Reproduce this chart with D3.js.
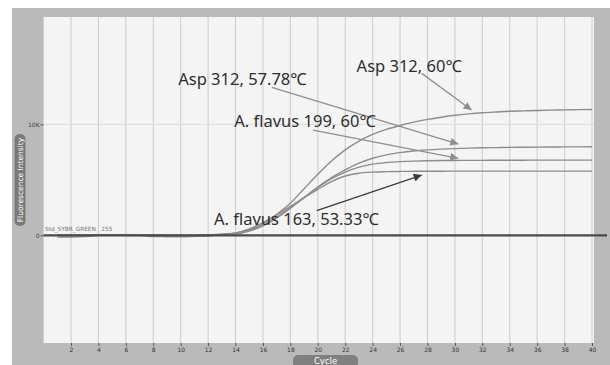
<!DOCTYPE html>
<html><head><meta charset="utf-8">
<script src="https://cdn.jsdelivr.net/npm/d3@7"></script>
<style>
html,body{margin:0;padding:0;background:#fff;}
svg{display:block;}
</style></head>
<body>
<svg id="chart" width="610" height="365"></svg>
<script>
// ---- data ----
const cycles = d3.range(1, 41);
const xTicks = [2,4,6,8,10,12,14,16,18,20,22,24,26,28,30,32,34,36,38,40];
const yTicks = [0, 10000];
const yTickLabels = ["0", "10K"];
// fluorescence (K units) per cycle 1..40
const asp312_60 = [0.02,0.0,-0.05,0.0,0.02,0.0,-0.03,0.0,0.02,0.0,0.02,0.05,0.1,0.2,0.5,1.05,1.9,2.9,4.2,5.5,6.7,7.7,8.5,9.1,9.55,9.9,10.2,10.45,10.65,10.82,10.95,11.05,11.12,11.18,11.22,11.26,11.29,11.31,11.33,11.35];
const asp312_5778 = [-0.15,-0.15,-0.12,0.0,0.0,0.0,0.0,0.0,-0.12,-0.12,-0.1,0.0,0.05,0.12,0.38,0.85,1.55,2.45,3.4,4.35,5.2,5.9,6.5,6.95,7.25,7.45,7.6,7.7,7.77,7.82,7.86,7.89,7.91,7.93,7.94,7.95,7.96,7.97,7.97,7.98];
const flavus199_60 = [0.0,0.0,0.0,0.0,0.0,0.0,0.0,-0.12,-0.12,-0.12,-0.1,-0.05,0.05,0.12,0.42,0.92,1.65,2.5,3.4,4.3,5.1,5.7,6.15,6.42,6.56,6.64,6.69,6.72,6.74,6.75,6.76,6.76,6.77,6.77,6.77,6.78,6.78,6.78,6.78,6.78];
const flavus163_5333 = [0.0,0.0,0.0,0.0,0.0,0.0,0.0,0.0,0.0,-0.08,-0.08,-0.05,0.08,0.22,0.58,1.15,1.85,2.6,3.4,4.15,4.85,5.35,5.6,5.7,5.74,5.76,5.77,5.78,5.78,5.79,5.79,5.79,5.79,5.79,5.79,5.79,5.79,5.79,5.79,5.79];
const seriesNames = ["Asp 312, 60℃","Asp 312, 57.78℃","A. flavus 199, 60℃","A. flavus 163, 53.33℃"];
const seriesValues = [asp312_60, asp312_5778, flavus199_60, flavus163_5333];
// annotation anchors in data units (cycle, K)
const annoText = [[22.83,14.73],[9.82,13.54],[13.91,9.73],[12.43,0.93]];
const arrowFrom = [[27.58,14.6],[16.64,13.33],[19.65,9.49],[19.92,2.22]];
const arrowTo = [[31.22,11.29],[30.25,8.23],[30.25,6.94],[27.58,5.43]];
const thresholdLabel = "Std_SYBR_GREEN   255";

// ---- layout ----
const svg = d3.select("#chart");
const plot = {left:43.6, right:594, top:17, bottom:343};
const x = d3.scaleLinear().domain([0,40]).range([plot.left, 592]);
const y = d3.scaleLinear().domain([0,10000]).range([235.3, 124.4]);

// gray panel
svg.append("rect").attr("x",12).attr("y",8).attr("width",598).attr("height",357).attr("fill","#bababa");
// plot bg
svg.append("rect").attr("x",plot.left).attr("y",plot.top).attr("width",plot.right-plot.left).attr("height",plot.bottom-plot.top).attr("fill","#f4f4f4");

// grid
svg.append("g").selectAll("line").data(xTicks).join("line")
  .attr("x1",d=>x(d)).attr("x2",d=>x(d)).attr("y1",plot.top).attr("y2",plot.bottom)
  .attr("stroke","#d2d2d2").attr("stroke-width",1.2);
svg.append("line").attr("x1",plot.left).attr("x2",plot.right).attr("y1",y(10000)).attr("y2",y(10000))
  .attr("stroke","#dcdcdc").attr("stroke-width",1);

// x axis
const xAxis = svg.append("g").attr("transform",`translate(0,${plot.bottom})`)
  .call(d3.axisBottom(x).tickValues(xTicks).tickSize(3).tickPadding(1.5).tickFormat(d3.format("d")));
xAxis.select(".domain").remove();
xAxis.selectAll("line").attr("stroke","#555");
xAxis.selectAll("text").attr("fill","#333").style("font","6px 'DejaVu Sans', sans-serif");

// y axis
const yAxis = svg.append("g").attr("transform",`translate(${plot.left},0)`)
  .call(d3.axisLeft(y).tickValues(yTicks).tickSize(3).tickPadding(1).tickFormat((d,i)=>yTickLabels[i]));
yAxis.select(".domain").remove();
yAxis.selectAll("line").attr("stroke","#555");
yAxis.selectAll("text").attr("fill","#444").style("font","6px 'DejaVu Sans', sans-serif");

// y label box
svg.append("rect").attr("x",14.5).attr("y",134).attr("width",11).attr("height",92).attr("rx",5).attr("fill","#7a7a7a");
svg.append("text").attr("transform","translate(22.5,180) rotate(-90)").attr("text-anchor","middle")
  .attr("fill","#fff").style("font","7.5px 'DejaVu Sans', sans-serif").text("Fluorescence Intensity");

// x label box
svg.append("rect").attr("x",293).attr("y",355).attr("width",65).attr("height",13).attr("rx",5).attr("fill","#808080");
svg.append("text").attr("x",325.5).attr("y",363.5).attr("text-anchor","middle")
  .attr("fill","#fff").style("font","8.5px 'DejaVu Sans', sans-serif").text("Cycle");

// curves
const line = d3.line().x((d,i)=>x(cycles[i])).y(d=>y(d*1000)).curve(d3.curveMonotoneX);
svg.append("g").selectAll("path").data(seriesValues).join("path")
  .attr("d",line).attr("fill","none").attr("stroke","#8c8c8c").attr("stroke-width",1.4);

// threshold line
svg.append("line").attr("x1",plot.left).attr("x2",607).attr("y1",y(0)).attr("y2",y(0))
  .attr("stroke","#4a4a4a").attr("stroke-width",2.2);
svg.append("text").attr("x",45).attr("y",y(0)-4.5).attr("fill","#777")
  .style("font","5.8px 'DejaVu Sans', sans-serif").style("white-space","pre").text(thresholdLabel);

// arrows
const defs = svg.append("defs");
["#8f8f8f","#3c3c3c"].forEach((c,i)=>{
  defs.append("marker").attr("id","ah"+i).attr("viewBox","0 0 10 10").attr("refX",10).attr("refY",5)
    .attr("markerWidth",10).attr("markerHeight",8).attr("markerUnits","userSpaceOnUse").attr("orient","auto")
    .append("path").attr("d","M0,0L10,5L0,10Z").attr("fill",c);
});
svg.append("g").selectAll("line").data(arrowFrom).join("line")
  .attr("x1",d=>x(d[0])).attr("y1",d=>y(d[1]*1000))
  .attr("x2",(d,i)=>x(arrowTo[i][0])).attr("y2",(d,i)=>y(arrowTo[i][1]*1000))
  .attr("stroke",(d,i)=>i===3?"#3c3c3c":"#8f8f8f").attr("stroke-width",1.3)
  .attr("marker-end",(d,i)=>i===3?"url(#ah1)":"url(#ah0)");

// annotation text
svg.append("g").selectAll("text").data(seriesNames).join("text")
  .attr("x",(d,i)=>x(annoText[i][0])).attr("y",(d,i)=>y(annoText[i][1]*1000))
  .attr("fill","#2e2e2e").style("font","16.5px 'Noto Sans', sans-serif").text(d=>d);
</script>
</body></html>
